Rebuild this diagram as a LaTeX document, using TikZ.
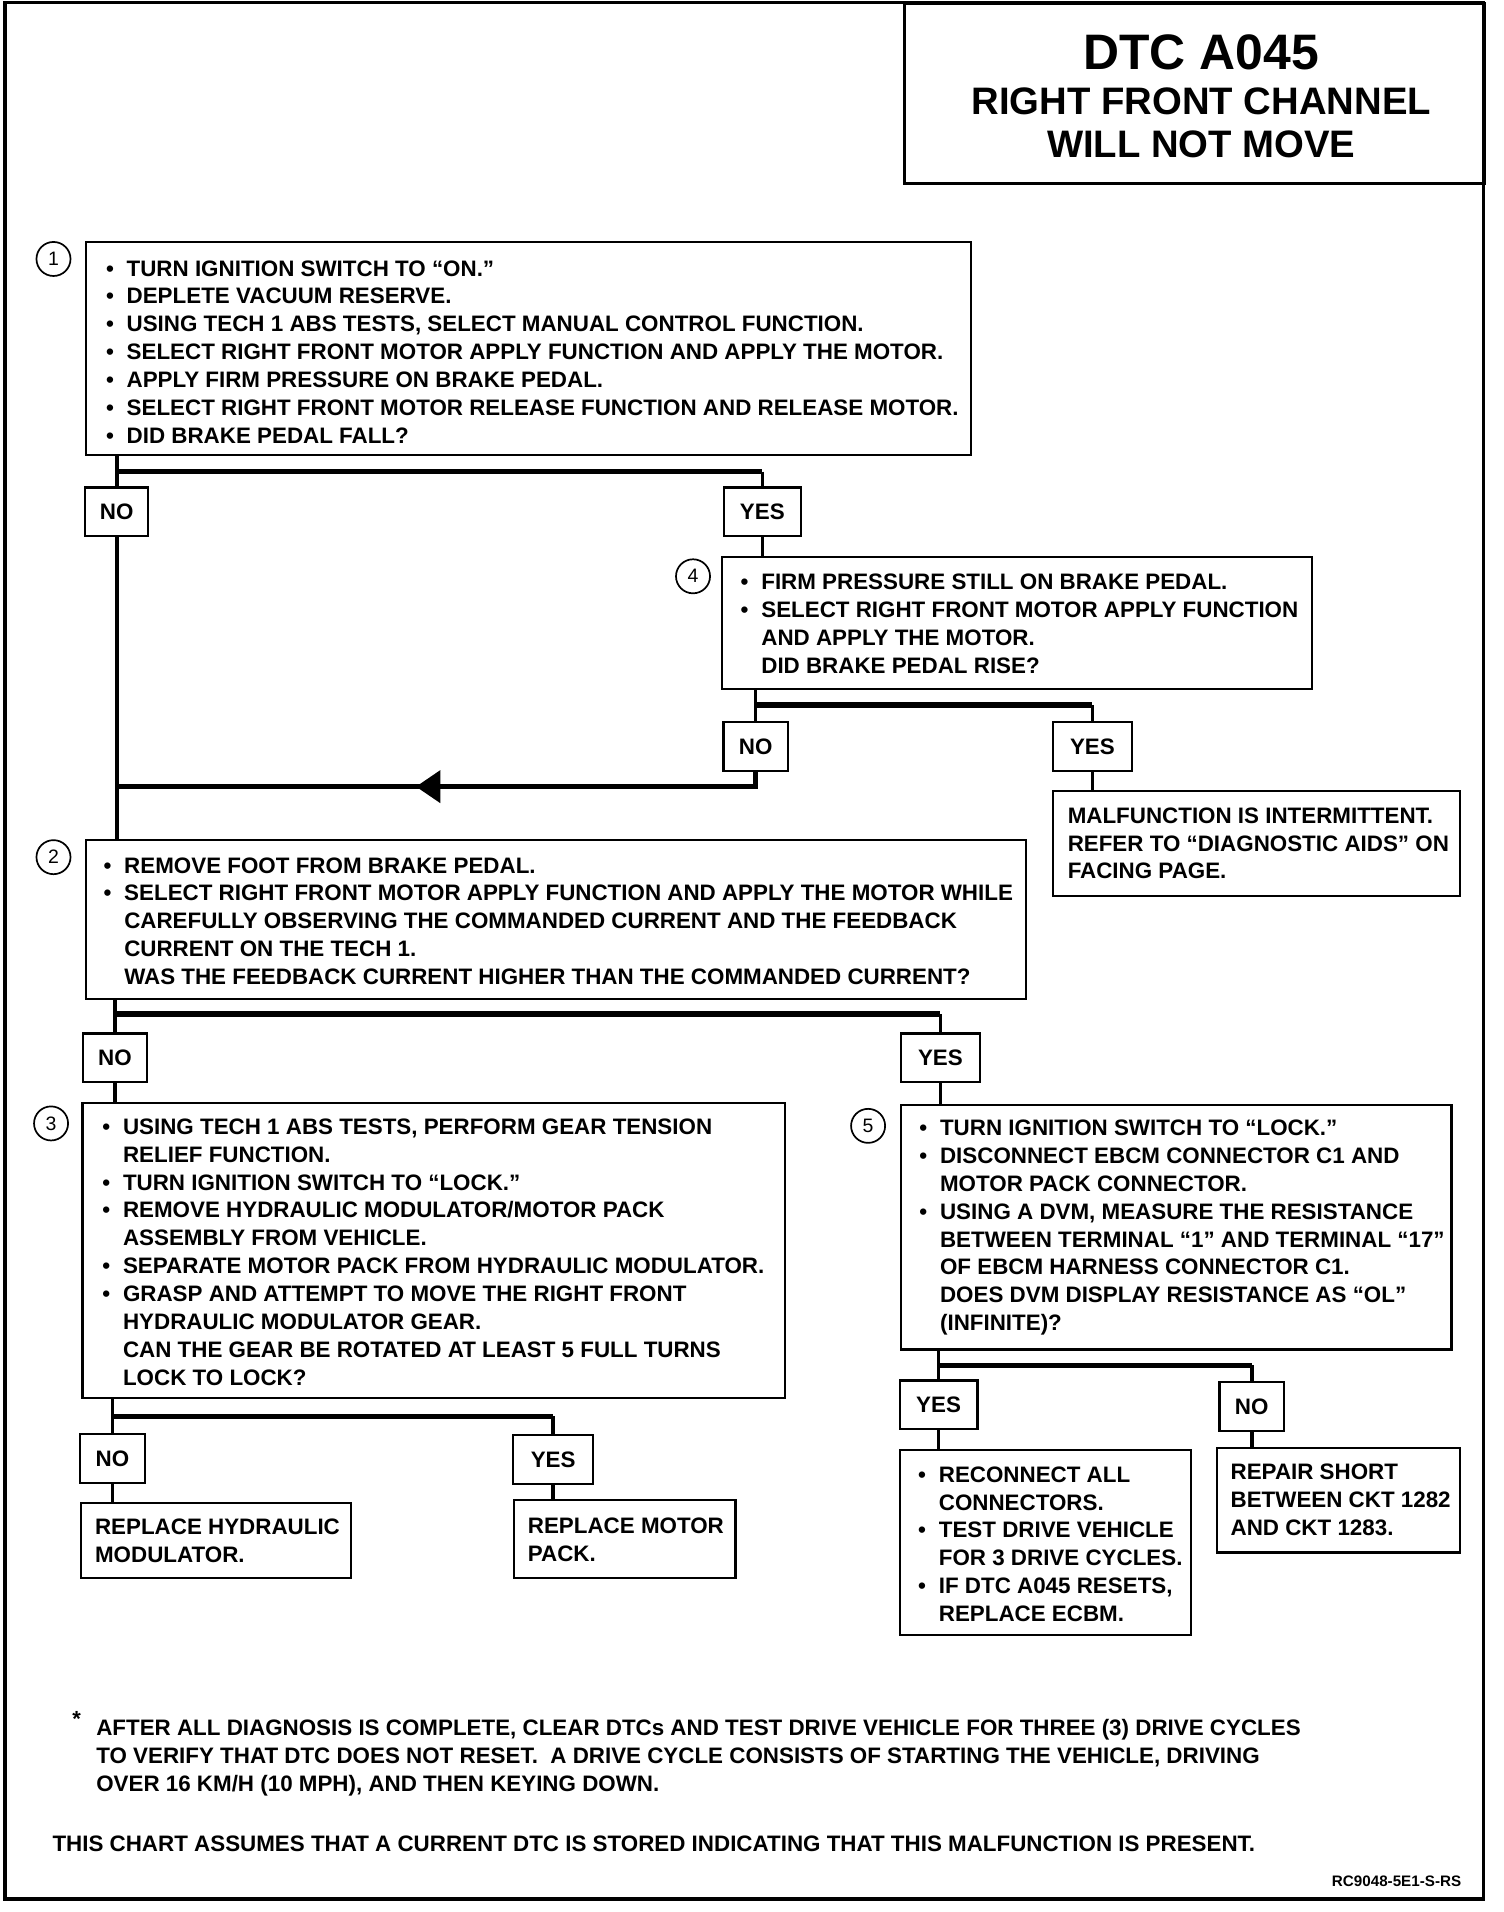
\documentclass[tikz,border=0pt]{standalone}
\usepackage{fontspec}
\setmainfont{Liberation Sans}
\usetikzlibrary{decorations.markings,arrows.meta}
\newcommand\chtxt{\bfseries\fontsize{18.4}{22.9}\selectfont}
\newcommand\bl{\makebox[17pt][l]{\textbullet}}
\newcommand\ind{\hspace*{17pt}}
\begin{document}
\begin{tikzpicture}[x=1pt,y=-1pt,
  box/.style={draw,line width=1.8pt,anchor=north west,inner sep=0pt},
  txt/.style={anchor=north west,align=left,inner sep=0pt,font=\chtxt},
  lab/.style={draw,line width=1.8pt,inner sep=0pt,minimum height=40pt,font=\chtxt},
  num/.style={draw,circle,line width=1.4pt,minimum size=28pt,inner sep=0pt,font=\fontsize{16}{16}\selectfont},
  conn/.style={line width=3pt},
  bar/.style={line width=4.5pt},
  arrline/.style={line width=4pt,postaction={decorate},
    decoration={markings,mark=at position 291.5pt with {\arrow{Triangle[length=20pt,width=26pt]}}}},
]
\useasboundingbox (0,0) rectangle (1237,1572.6);
% frame and title
\draw[line width=3pt] (4,2) rectangle (1220,1562);
\node[draw,line width=2.2pt,anchor=north west,minimum width=477pt,minimum height=148pt,inner sep=0pt] (title) at (743,2) {};
\node[font=\bfseries\fontsize{41}{41}\selectfont] (t1) at (988,43) {DTC A045};
\node[font=\bfseries\fontsize{31.5}{31.5}\selectfont] (t2) at (988,83) {RIGHT FRONT CHANNEL};
\node[font=\bfseries\fontsize{31.5}{31.5}\selectfont] (t3) at (988,119) {WILL NOT MOVE};

% step 1
\node[num] (n1) at (44,213) {1};
\node[box,minimum width=728pt,minimum height=175pt] (b1) at (70,198) {};
\node[txt] (b1t) at (87,214) {\bl TURN IGNITION SWITCH TO “ON.”\\
\bl DEPLETE VACUUM RESERVE.\\
\bl USING TECH 1 ABS TESTS, SELECT MANUAL CONTROL FUNCTION.\\
\bl SELECT RIGHT FRONT MOTOR APPLY FUNCTION AND APPLY THE MOTOR.\\
\bl APPLY FIRM PRESSURE ON BRAKE PEDAL.\\
\bl SELECT RIGHT FRONT MOTOR RELEASE FUNCTION AND RELEASE MOTOR.\\
\bl DID BRAKE PEDAL FALL?};
\node[lab,minimum width=52pt] (L1no) at (96,421) {NO};
\node[lab,minimum width=63pt] (L1yes) at (627,421) {YES};

% step 4
\node[num] (n4) at (570,474) {4};
\node[box,minimum width=485pt,minimum height=109pt] (b4) at (593,457) {};
\node[txt] (b4t) at (609,472) {\bl FIRM PRESSURE STILL ON BRAKE PEDAL.\\
\bl SELECT RIGHT FRONT MOTOR APPLY FUNCTION\\
\ind AND APPLY THE MOTOR.\\
\ind DID BRAKE PEDAL RISE?};
\node[lab,minimum width=53pt] (L4no) at (621.5,614) {NO};
\node[lab,minimum width=65pt] (L4yes) at (898.5,614) {YES};
\node[box,minimum width=335pt,minimum height=86pt] (bm) at (865,650) {};
\node[txt] (bmt) at (878,664) {MALFUNCTION IS INTERMITTENT.\\
REFER TO “DIAGNOSTIC AIDS” ON\\
FACING PAGE.};

% step 2
\node[num] (n2) at (44,705) {2};
\node[box,minimum width=773pt,minimum height=131pt] (b2) at (70,690) {};
\node[txt] (b2t) at (85,705) {\bl REMOVE FOOT FROM BRAKE PEDAL.\\
\bl SELECT RIGHT FRONT MOTOR APPLY FUNCTION AND APPLY THE MOTOR WHILE\\
\ind CAREFULLY OBSERVING THE COMMANDED CURRENT AND THE FEEDBACK\\
\ind CURRENT ON THE TECH 1.\\
\ind WAS THE FEEDBACK CURRENT HIGHER THAN THE COMMANDED CURRENT?};
\node[lab,minimum width=53pt] (L2no) at (94.5,870) {NO};
\node[lab,minimum width=65pt] (L2yes) at (773.5,870) {YES};

% step 3
\node[num] (n3) at (42,924) {3};
\node[box,minimum width=578pt,minimum height=243pt] (b3) at (67,906) {};
\node[txt] (b3t) at (84,920) {\bl USING TECH 1 ABS TESTS, PERFORM GEAR TENSION\\
\ind RELIEF FUNCTION.\\
\bl TURN IGNITION SWITCH TO “LOCK.”\\
\bl REMOVE HYDRAULIC MODULATOR/MOTOR PACK\\
\ind ASSEMBLY FROM VEHICLE.\\
\bl SEPARATE MOTOR PACK FROM HYDRAULIC MODULATOR.\\
\bl GRASP AND ATTEMPT TO MOVE THE RIGHT FRONT\\
\ind HYDRAULIC MODULATOR GEAR.\\
\ind CAN THE GEAR BE ROTATED AT LEAST 5 FULL TURNS\\
\ind LOCK TO LOCK?};
\node[lab,minimum width=53pt] (L3no) at (92.5,1199.5) {NO};
\node[lab,minimum width=66pt] (L3yes) at (455,1200.5) {YES};
\node[box,minimum width=222pt,minimum height=62pt] (bh) at (66,1235) {};
\node[txt] (bht) at (78,1249) {REPLACE HYDRAULIC\\ MODULATOR.};
\node[box,minimum width=182pt,minimum height=64pt] (bp) at (422,1233) {};
\node[txt] (bpt) at (434,1248) {REPLACE MOTOR\\ PACK.};

% step 5
\node[num] (n5) at (714,926) {5};
\node[box,minimum width=453pt,minimum height=201pt] (b5) at (740,908) {};
\node[txt] (b5t) at (756,921) {\bl TURN IGNITION SWITCH TO “LOCK.”\\
\bl DISCONNECT EBCM CONNECTOR C1 AND\\
\ind MOTOR PACK CONNECTOR.\\
\bl USING A DVM, MEASURE THE RESISTANCE\\
\ind BETWEEN TERMINAL “1” AND TERMINAL “17”\\
\ind OF EBCM HARNESS CONNECTOR C1.\\
\ind DOES DVM DISPLAY RESISTANCE AS “OL”\\
\ind (INFINITE)?};
\node[lab,minimum width=64pt] (L5yes) at (772,1155.5) {YES};
\node[lab,minimum width=53pt] (L5no) at (1029.5,1157) {NO};
\node[box,minimum width=240pt,minimum height=152pt] (br) at (739,1192) {};
\node[txt] (brt) at (755,1206) {\bl RECONNECT ALL\\
\ind CONNECTORS.\\
\bl TEST DRIVE VEHICLE\\
\ind FOR 3 DRIVE CYCLES.\\
\bl IF DTC A045 RESETS,\\
\ind REPLACE ECBM.};
\node[box,minimum width=200pt,minimum height=86pt] (bs) at (1000,1190) {};
\node[txt] (bst) at (1012,1204) {REPAIR SHORT\\ BETWEEN CKT 1282\\ AND CKT 1283.};

% footer
\node[font=\bfseries\fontsize{18}{18}\selectfont] (ast) at (63,1414) {*};
\node[txt] (f1) at (79,1414) {AFTER ALL DIAGNOSIS IS COMPLETE, CLEAR DTCs AND TEST DRIVE VEHICLE FOR THREE (3) DRIVE CYCLES\\
TO VERIFY THAT DTC DOES NOT RESET.\ \ A DRIVE CYCLE CONSISTS OF STARTING THE VEHICLE, DRIVING\\
OVER 16 KM/H (10 MPH), AND THEN KEYING DOWN.};
\node[txt] (f2) at (43,1510) {THIS CHART ASSUMES THAT A CURRENT DTC IS STORED INDICATING THAT THIS MALFUNCTION IS PRESENT.};
\node[anchor=east,inner sep=0pt,font=\bfseries\fontsize{12.5}{12.5}\selectfont] (code) at (1202,1547) {RC9048-5E1-S-RS};

% connectors
\coordinate (j1) at (96,388);
\draw[conn] (b1.south -| j1) -- (L1no.north);
\draw[bar] (j1) -- (j1 -| L1yes);
\draw[conn] (j1 -| L1yes) -- (L1yes.north);
\draw[conn] (L1yes.south) -- (L1yes.south |- b4.north);
\draw[conn] (L1no.south) -- (L1no.south |- b2.north);

\coordinate (j4) at (621.5,580);
\draw[conn] (b4.south -| j4) -- (L4no.north);
\draw[bar] (j4) -- (j4 -| L4yes);
\draw[conn] (j4 -| L4yes) -- (L4yes.north);
\draw[conn] (L4yes.south) -- (L4yes.south |- bm.north);
\coordinate (j4b) at (96,647);
\draw[arrline] (L4no.south) -- (L4no.south |- j4b) -- (j4b);

\coordinate (j2) at (94.5,834);
\draw[conn] (b2.south -| j2) -- (L2no.north);
\draw[bar] (j2) -- (j2 -| L2yes);
\draw[conn] (j2 -| L2yes) -- (L2yes.north);
\draw[conn] (L2no.south) -- (L2no.south |- b3.north);
\draw[conn] (L2yes.south) -- (L2yes.south |- b5.north);

\coordinate (j3) at (92.5,1165);
\draw[conn] (b3.south -| j3) -- (L3no.north);
\draw[bar] (j3) -- (j3 -| L3yes);
\draw[conn] (j3 -| L3yes) -- (L3yes.north);
\draw[conn] (L3no.south) -- (L3no.south |- bh.north);
\draw[conn] (L3yes.south) -- (L3yes.south |- bp.north);

\coordinate (j5) at (772,1123);
\draw[conn] (b5.south -| j5) -- (L5yes.north);
\draw[bar] (j5) -- (j5 -| L5no);
\draw[conn] (j5 -| L5no) -- (L5no.north);
\draw[conn] (L5yes.south) -- (L5yes.south |- br.north);
\draw[conn] (L5no.south) -- (L5no.south |- bs.north);
\end{tikzpicture}
\end{document}
